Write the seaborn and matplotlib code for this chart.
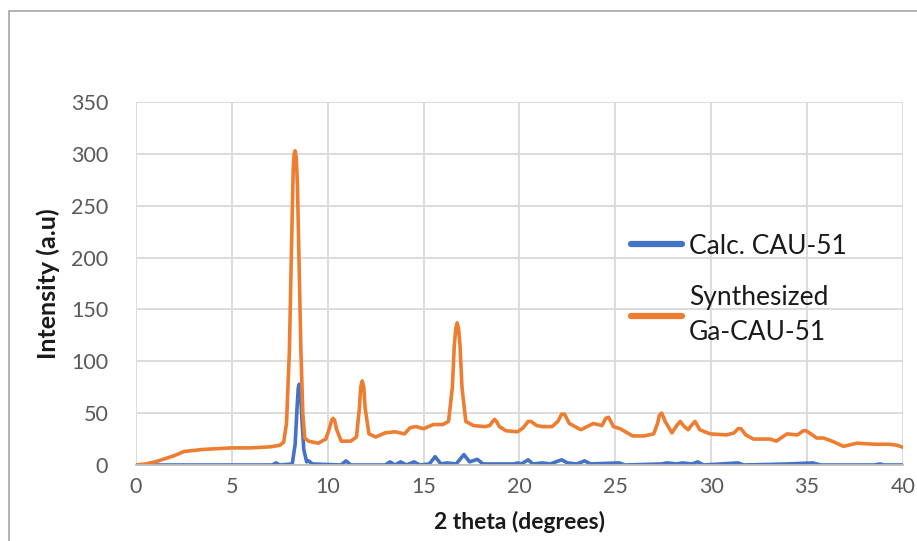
import matplotlib
matplotlib.use("Agg")
import matplotlib.pyplot as plt
from matplotlib.patches import Rectangle
import pandas as pd
import seaborn as sns

# Synthesized Ga-CAU-51 powder pattern (2 theta in degrees, intensity)
synth_2theta = [0, 0.5, 1.0, 1.5, 2.0, 2.5, 3.0, 3.5, 4.0, 5.0, 6.0, 7.0, 7.5, 7.7, 7.85,
                8.0, 8.1, 8.2, 8.25, 8.3, 8.36, 8.42, 8.5, 8.6, 8.7, 8.8, 9.0, 9.5, 9.9,
                10.1, 10.2, 10.28, 10.36, 10.45, 10.7, 11.2, 11.5, 11.65, 11.72, 11.8,
                11.88, 11.95, 12.15, 12.5, 13.0, 13.5, 14.0, 14.3, 14.6, 15.0, 15.5, 16.0,
                16.3, 16.5, 16.6, 16.68, 16.75, 16.82, 16.9, 17.0, 17.2, 17.6, 18.2, 18.45,
                18.6, 18.7, 18.8, 18.95, 19.3, 19.9, 20.2, 20.45, 20.6, 20.9, 21.2, 21.7,
                22.0, 22.2, 22.35, 22.6, 23.2, 23.85, 24.3, 24.5, 24.65, 24.9, 25.25, 25.9,
                26.5, 27.0, 27.2, 27.3, 27.42, 27.6, 27.95, 28.2, 28.38, 28.6, 28.8, 29.0,
                29.16, 29.4, 29.94, 30.8, 31.2, 31.4, 31.55, 31.8, 32.2, 33.07, 33.4, 33.95,
                34.5, 34.8, 34.95, 35.2, 35.5, 35.85, 36.3, 36.9, 37.6, 38.5, 39.3, 39.7,
                40.0]
synth_intensity = [0, 1, 3, 6, 9, 13, 14, 15, 15.5, 16.5, 16.5, 17.5, 19, 22, 40,
                   110, 200, 285, 300, 303, 296, 270, 200, 110, 50, 26, 23, 21, 25,
                   36, 43, 45, 43, 35, 23, 23, 27, 55, 75, 81,
                   75, 55, 30, 27, 31, 32, 30, 36, 37, 35, 39, 39,
                   42, 75, 115, 132, 137, 132, 115, 75, 42, 38, 37, 38,
                   42, 44, 42, 37, 33, 32, 36, 42, 42, 38, 37, 37,
                   42, 49, 49, 40, 34, 40, 38, 45, 46, 37, 35, 28,
                   28, 30, 40, 48, 50, 42, 31, 38, 42, 37, 34, 39,
                   42, 34, 30, 29, 31, 35, 35, 29, 25, 25, 23, 30,
                   29, 33, 33, 30, 26, 26, 23, 18, 21, 20, 20, 19,
                   17]

# Calculated CAU-51 pattern
calc_2theta = [0, 7.1, 7.3, 7.5, 8.15, 8.3, 8.4, 8.46, 8.52, 8.58, 8.65, 8.75, 8.9, 9.0,
               9.2, 10.7, 10.95, 11.2, 13.0, 13.25, 13.5, 13.8, 14.1, 14.5, 14.8, 15.3,
               15.6, 15.9, 16.2, 16.7, 17.1, 17.4, 17.8, 18.1, 19.7, 19.9, 20.1, 20.45,
               20.7, 21.2, 21.6, 22.2, 22.5, 23.0, 23.4, 23.7, 25.2, 25.5, 27.4, 27.7,
               28.2, 28.5, 29.0, 29.3, 29.6, 31.4, 31.7, 34.0, 35.3, 35.7, 38.5, 38.8,
               39.0, 40.0]
calc_intensity = [0, 0, 2, 0, 1, 20, 55, 74, 78, 70, 45, 15, 3, 4,
                  1, 0, 4, 0, 0, 3, 0, 3, 0, 3, 0, 1,
                  8, 1, 2, 1, 10, 3, 5.5, 1, 1, 2, 1, 5,
                  1, 2, 1, 5, 2, 1, 4, 1, 2, 0, 1, 2,
                  1, 2, 1, 3, 0, 2, 0, 1, 2, 0, 0, 1,
                  0, 0]

series_names = ["Calc. CAU-51", "Synthesized\nGa-CAU-51"]
series_colors = ["#4472C4", "#ED7D31"]
x_ticks = [0, 5, 10, 15, 20, 25, 30, 35, 40]
y_ticks = [0, 50, 100, 150, 200, 250, 300, 350]

df = pd.concat([
    pd.DataFrame({"two_theta": calc_2theta, "intensity": calc_intensity,
                  "series": series_names[0]}),
    pd.DataFrame({"two_theta": synth_2theta, "intensity": synth_intensity,
                  "series": series_names[1]}),
], ignore_index=True)

sns.set_theme(style="whitegrid")
plt.rcParams["font.family"] = ["Lato", "DejaVu Sans"]

fig = plt.figure(figsize=(9.17, 5.41), dpi=100)
ax = fig.add_axes([0.1483, 0.1405, 0.8364, 0.671])

sns.lineplot(data=df, x="two_theta", y="intensity", hue="series",
             hue_order=series_names, palette=dict(zip(series_names, series_colors)),
             linewidth=2.6, estimator=None, sort=False, ax=ax)
for line in ax.get_lines():
    line.set_solid_joinstyle("round")

ax.set_xlim(0, 40)
ax.set_ylim(0, 350)
ax.set_xticks(x_ticks)
ax.set_yticks(y_ticks)
ax.tick_params(axis="both", labelsize=15.5, labelcolor="#595959", length=0)
ax.tick_params(axis="y", pad=20)
ax.tick_params(axis="x", pad=9)
ax.grid(True, color="#D9D9D9", linewidth=1.3)
for side in ["top", "right", "left"]:
    ax.spines[side].set_visible(False)
ax.spines["bottom"].set_visible(True)
ax.spines["bottom"].set_color("#BFBFBF")
ax.spines["bottom"].set_linewidth(1.3)

ax.set_xlabel("2 theta (degrees)", fontsize=16.5, fontweight="bold", color="#1a1a1a", labelpad=10)
ax.set_ylabel("Intensity (a.u)", fontsize=18, fontweight="bold", color="#1a1a1a", labelpad=8)

leg = ax.legend(loc="upper left", bbox_to_anchor=(0.615, 0.703), frameon=False,
                fontsize=19, handlelength=1.9, handletextpad=0.27, labelspacing=1.0)
for line in leg.get_lines():
    line.set_linewidth(4.5)
    line.set_solid_capstyle("round")
for t in leg.get_texts():
    t.set_color("#1a1a1a")
    t.set_linespacing(1.5)

# chart area border
fig.patches.append(Rectangle((9 / 917, -0.1), 1.2, 1.1 - 11 / 541, transform=fig.transFigure,
                             fill=False, edgecolor="#A6A6A6", linewidth=1.2))

fig.savefig("out.png", dpi=100)
